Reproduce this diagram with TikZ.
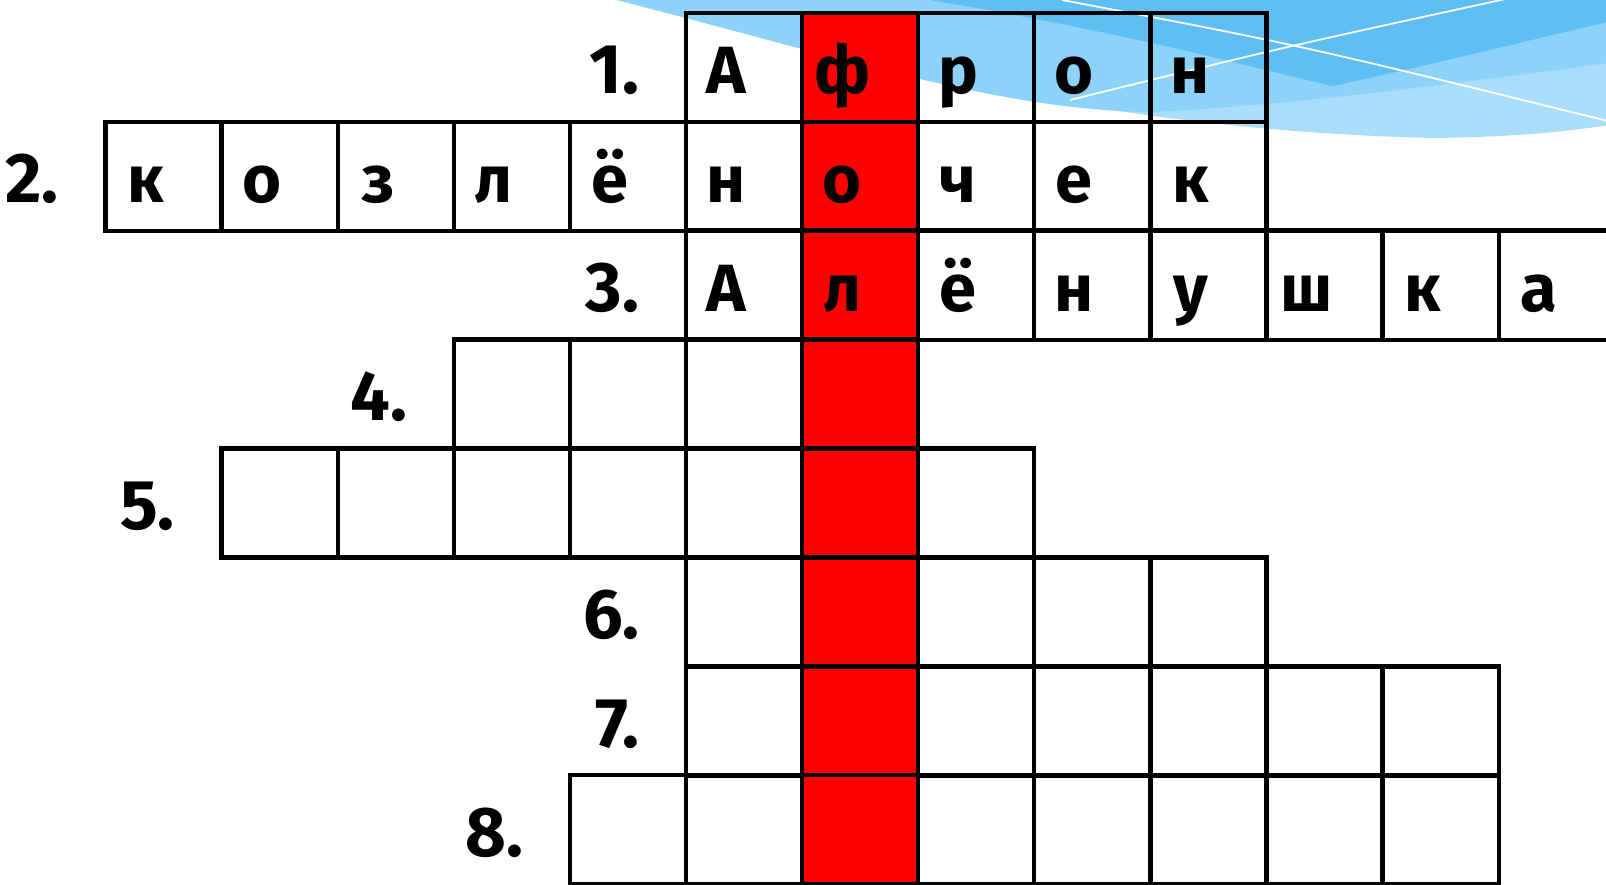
\documentclass[tikz,border=0pt]{standalone}
\usepackage{fontspec}
\setmainfont{Fira Sans}
\usepackage{xcolor}
\definecolor{skylight}{HTML}{A9DDFA}
\definecolor{skymid}{HTML}{8DD2F9}
\definecolor{skydeep}{HTML}{5EBFF5}
\usepackage{tikz}
\usetikzlibrary{calc}

\begin{document}
\begin{tikzpicture}[
  x=0.01cm,y=-0.01cm,
  cell/.style={draw=black,line width=1.2pt,minimum width=1.161cm,minimum height=1.0895cm,inner sep=0pt,outer sep=0pt},
  letter/.style={anchor=base,inner sep=0pt,font=\bfseries\fontsize{19}{19}\selectfont},
  num/.style={anchor=base east,inner sep=0pt,font=\bfseries\fontsize{20}{20}\selectfont},
  wisp/.style={draw=white,line width=0.5pt}
]
\clip (0,0) rectangle (1606,884);
\fill[skylight] (617,0) .. controls (850,60) and (1100,130) .. (1433,138) .. controls (1520,137) and (1570,131) .. (1616,124) -- (1616,-10) -- (617,-10) -- cycle;
\fill[skymid] (617,0) .. controls (850,60) and (1000,110) .. (1150,112) .. controls (1300,105) and (1480,80) .. (1616,62) -- (1616,-10) -- (617,-10) -- cycle;
\fill[skydeep] (930,0) .. controls (1140,35) and (1260,70) .. (1333,86) .. controls (1430,65) and (1530,40) .. (1616,20) -- (1616,-10) -- (930,-10) -- cycle;
\draw[wisp] (1062,0) .. controls (1300,45) .. (1616,123);
\draw[wisp] (1070,100) .. controls (1280,48) .. (1510,-2);
\foreach \row/\first/\last in {1/5/9,2/0/9,3/5/12,4/3/6,5/1/7,6/5/9,7/5/11,8/4/11}
  \foreach \col in {\first,...,\last}{
    \ifnum\col=6 \def\cellfill{red}\else\def\cellfill{none}\fi
    \node[cell,fill=\cellfill] (c\row-\col) at ({163.55+116.1*\col},{67.2+108.95*(\row-1)}) {};
  }
\foreach \row/\col/\ch in {1/5/А,1/6/ф,1/7/р,1/8/о,1/9/н,
  2/0/к,2/1/о,2/2/з,2/3/л,2/4/ё,2/5/н,2/6/о,2/7/ч,2/8/е,2/9/к,
  3/5/А,3/6/л,3/7/ё,3/8/н,3/9/у,3/10/ш,3/11/к,3/12/а}
  \node[letter] (t\row-\col) at ($(c\row-\col.south)+(-18,-28)$) {\ch};
\foreach \row/\col in {1/5,2/0,3/5,4/3,5/1,6/5,7/5,8/4}
  \node[num] (n\row) at ($(c\row-\col.south west)+(-46,-28)$) {\row.};
\end{tikzpicture}
\end{document}
